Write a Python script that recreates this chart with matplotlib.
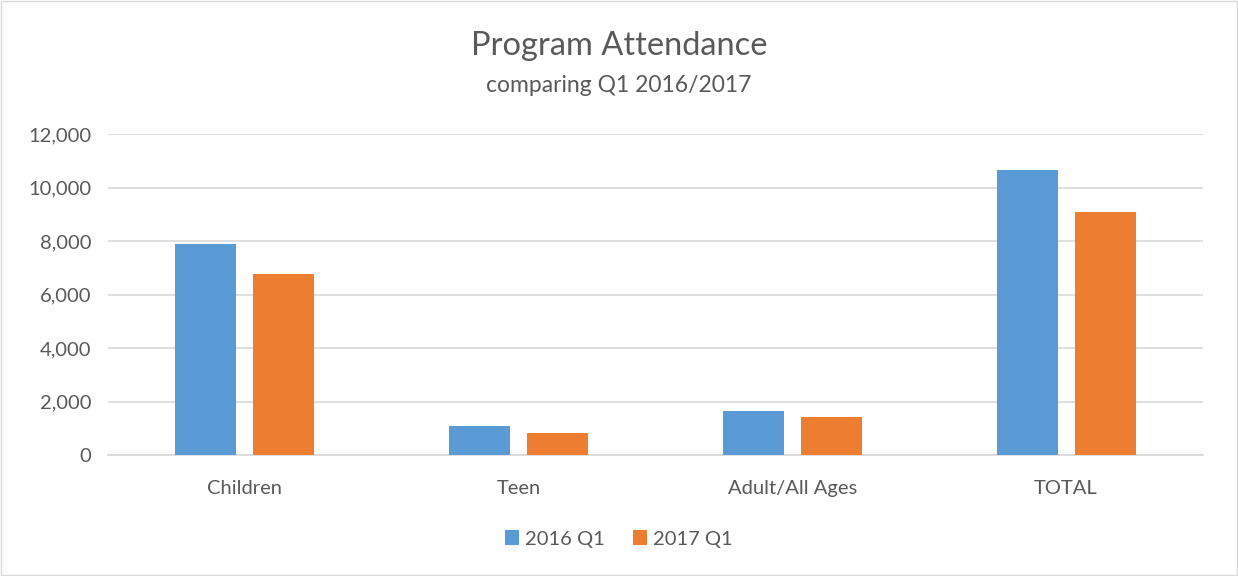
import numpy as np
import matplotlib
matplotlib.use('Agg')
import matplotlib.pyplot as plt
from matplotlib.ticker import FuncFormatter

categories = ['Children', 'Teen', 'Adult/All Ages', 'TOTAL']
q1_2016 = [7876, 1079, 1630, 10648]
q1_2017 = [6774, 817, 1416, 9074]
series_names = ['2016 Q1', '2017 Q1']

plt.rcParams['font.family'] = ['Lato', 'DejaVu Sans']
grey = '#595959'

fig = plt.figure(figsize=(12.38, 5.76), dpi=100)
ax = fig.add_axes([108 / 1238, 1 - 455 / 576, (1203 - 108) / 1238, (455 - 134) / 576])

x = np.arange(len(categories))
w = 0.223
ax.bar(x - 0.1425, q1_2016, w, color='#5B9BD5', label=series_names[0], zorder=3)
ax.bar(x + 0.1425, q1_2017, w, color='#ED7D31', label=series_names[1], zorder=3)

ax.set_xlim(-0.5, len(categories) - 0.5)
ax.set_ylim(0, 12000)
ax.set_yticks(range(0, 12001, 2000))
ax.yaxis.set_major_formatter(FuncFormatter(lambda v, p: f'{int(v):,}'))
ax.set_xticks(x)
ax.set_xticklabels(categories)
ax.grid(axis='y', color='#D9D9D9', linewidth=1.2, zorder=0)
for s in ['top', 'right', 'left']:
    ax.spines[s].set_visible(False)
ax.spines['bottom'].set_color('#D9D9D9')
ax.spines['bottom'].set_linewidth(1.2)
ax.tick_params(axis='both', length=0, labelsize=14.5, colors=grey)
ax.tick_params(axis='x', pad=18)
ax.tick_params(axis='y', pad=12)

fig.text(0.5, 1 - 46 / 576, 'Program Attendance', ha='center', va='center', fontsize=23.5, color=grey)
fig.text(0.5, 1 - 85 / 576, 'comparing Q1 2016/2017', ha='center', va='center', fontsize=16.5, color=grey)

fig.legend(loc='center', bbox_to_anchor=(0.5, 1 - 539 / 576), ncol=2, frameon=False,
           fontsize=14.5, labelcolor=grey, handlelength=0.7, handleheight=0.7,
           handletextpad=0.3, columnspacing=1.4)

fig.patches.append(plt.Rectangle((0.001, 0.001), 0.998, 0.997, transform=fig.transFigure,
                                 fill=False, edgecolor='#D9D9D9', linewidth=1))

fig.savefig('out.png', dpi=100)
